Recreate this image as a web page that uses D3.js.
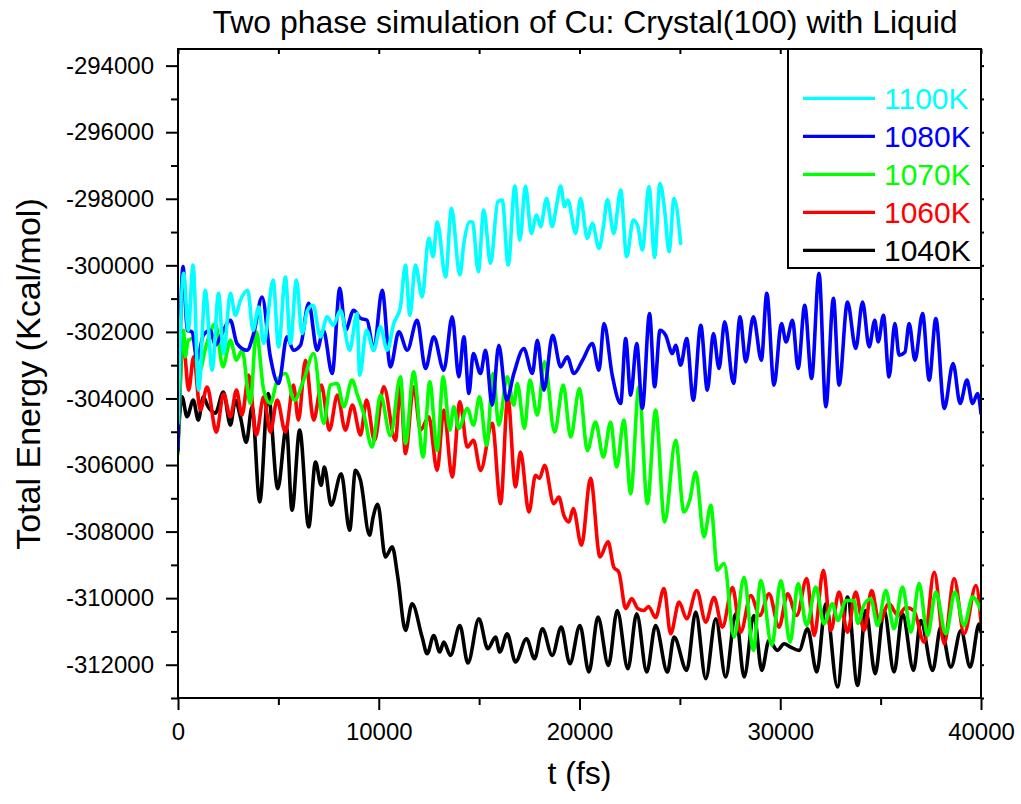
<!DOCTYPE html>
<html>
<head>
<meta charset="utf-8">
<script src="https://cdn.jsdelivr.net/npm/d3@7"></script>
<style>
  body { margin: 0; background: #fff; }
  text { font-family: "Liberation Sans", Arial, sans-serif; }
</style>
</head>
<body>
<div id="chart"></div>
<script>
// data: [time (fs), total energy (kcal/mol)]
var k1100 = [[0,-304750],[280,-300240],[510,-301950],[750,-299990],[1030,-303750],[1360,-300750],[1700,-303150],[2020,-300840],[2270,-302650],[2610,-300840],[2860,-301500],[3110,-301050],[3470,-300750],[3740,-301950],[4020,-301250],[4270,-302350],[4740,-300440],[5010,-302450],[5350,-300350],[5600,-302350],[5900,-300440],[6180,-302050],[6450,-301350],[6730,-301200],[7090,-302150],[7430,-301550],[7740,-301800],[8090,-301350],[8550,-302550],[8920,-301450],[9050,-303300],[9390,-301950],[9750,-302550],[10080,-301850],[10420,-302550],[10750,-301750],[11080,-301250],[11330,-299990],[11550,-301500],[11830,-299990],[12160,-300950],[12490,-299190],[12710,-299740],[12910,-298690],[13330,-300350],[13620,-298290],[14040,-300290],[14240,-299340],[14540,-298690],[14670,-298700],[14960,-300190],[15230,-298340],[15570,-299940],[15930,-298090],[16150,-298040],[16450,-299990],[16780,-297620],[17030,-299240],[17310,-297620],[17600,-299040],[17860,-298490],[18060,-298840],[18360,-297990],[18640,-298840],[18860,-298190],[19060,-297620],[19260,-298240],[19420,-298040],[19810,-299040],[20050,-297990],[20390,-299190],[20640,-298740],[20970,-299490],[21190,-298840],[21390,-298020],[21710,-299040],[22050,-297740],[22350,-299740],[22680,-298640],[22910,-298840],[23130,-299540],[23460,-297640],[23740,-299760],[24010,-297540],[24240,-298340],[24460,-299590],[24710,-297990],[25040,-299340]];

var k1080 = [[0,-305560],[250,-300040],[460,-301950],[700,-302000],[950,-302850],[1260,-302100],[1610,-301950],[1860,-302400],[2110,-302150],[2610,-301650],[2940,-302350],[3440,-302550],[3770,-302050],[4190,-300950],[4600,-302750],[5010,-303550],[5430,-302150],[5750,-302550],[6100,-302400],[6510,-301140],[6930,-302550],[7240,-301950],[7680,-303250],[8060,-300690],[8340,-301950],[8750,-301350],[9090,-301590],[9420,-301650],[9750,-302550],[10170,-300750],[10580,-303050],[11000,-302000],[11420,-302550],[11910,-301650],[12330,-303100],[12740,-302150],[13240,-303150],[13660,-301550],[13990,-303350],[14240,-302150],[14490,-303850],[14710,-302650],[15070,-303250],[15320,-302550],[15650,-304200],[15980,-302400],[16370,-304050],[16730,-303250],[17230,-302500],[17650,-303250],[17900,-302250],[18230,-303750],[18660,-302100],[19060,-303050],[19390,-302750],[19720,-303250],[20150,-302850],[20640,-302350],[20970,-303150],[21220,-301750],[21630,-303300],[22050,-304150],[22300,-302200],[22550,-303900],[22850,-302350],[23130,-304300],[23490,-301450],[23740,-303650],[24010,-301950],[24290,-302100],[24630,-302650],[24790,-302400],[25040,-303000],[25340,-302200],[25670,-304050],[26040,-301800],[26370,-303750],[26670,-302050],[26950,-303100],[27230,-301700],[27670,-303550],[28000,-301550],[28280,-302900],[28660,-301550],[29060,-302850],[29330,-300840],[29690,-303600],[30060,-301750],[30290,-302300],[30610,-301650],[30890,-303100],[31220,-301200],[31560,-303400],[31930,-300240],[32270,-304250],[32650,-300990],[32930,-303600],[33350,-301100],[33760,-302500],[34100,-301100],[34430,-302450],[34710,-301650],[34880,-302300],[35140,-301500],[35420,-303350],[35710,-301750],[35920,-302700],[36210,-302610],[36420,-301750],[36710,-302850],[37090,-301450],[37420,-303450],[37750,-301600],[38170,-304300],[38610,-302950],[38960,-304150],[39300,-303450],[39580,-304150],[39830,-303850],[40000,-304450]];

var k1070 = [[0,-305660],[280,-301950],[360,-302750],[510,-302250],[780,-302200],[1030,-303250],[1410,-302400],[1860,-301750],[2240,-303050],[2610,-302250],[2910,-302850],[3190,-302550],[3600,-304150],[3900,-302000],[4270,-303750],[4600,-304150],[4950,-303450],[5350,-303250],[5800,-304050],[6260,-303450],[6760,-302650],[7260,-304750],[7590,-303600],[7930,-303550],[8260,-304250],[8670,-303450],[8940,-303900],[9250,-304450],[9670,-305460],[10090,-303900],[10580,-305120],[11080,-303350],[11330,-305350],[11740,-303200],[12210,-305760],[12540,-303500],[12910,-305560],[13210,-303350],[13540,-304950],[13740,-304250],[13990,-304900],[14410,-304300],[14720,-304800],[15020,-303950],[15370,-305410],[15700,-303250],[15980,-304800],[16400,-303350],[16730,-304200],[16900,-303550],[17260,-304900],[17530,-303450],[17900,-304500],[18260,-302900],[18760,-305010],[19190,-303600],[19560,-305160],[20000,-303700],[20390,-305560],[20800,-304710],[21190,-305760],[21550,-304710],[21850,-306060],[22210,-304650],[22550,-306860],[22960,-303650],[23380,-307160],[23790,-304350],[24240,-307710],[24790,-305260],[25200,-307410],[25490,-307060],[25790,-306210],[26200,-308160],[26540,-307210],[26870,-309160],[27200,-308960],[27700,-311170],[28200,-309370],[28660,-311570],[29030,-309470],[29580,-311420],[30030,-309470],[30490,-311320],[30890,-309560],[31320,-310820],[31770,-309670],[32180,-310770],[32600,-310170],[32870,-310670],[33270,-310070],[33680,-310070],[33860,-310760],[34160,-310220],[34510,-310020],[34850,-310820],[35260,-309770],[35670,-310920],[36090,-309670],[36510,-311020],[36920,-309560],[37340,-311120],[37750,-309820],[38250,-311070],[38700,-309820],[39160,-310820],[39580,-309970],[40000,-310370]];

var k1060 = [[0,-305410],[280,-302450],[530,-303750],[780,-302750],[1110,-304350],[1450,-303660],[1910,-305010],[2270,-303870],[2610,-304550],[2910,-303750],[3190,-304500],[3520,-303300],[3900,-305100],[4270,-303950],[4600,-305010],[4940,-304050],[5350,-305010],[5750,-303600],[6000,-304650],[6350,-302850],[6760,-304650],[7140,-303600],[7540,-304950],[7940,-303900],[8340,-304950],[8690,-304200],[9090,-305100],[9390,-304050],[9790,-305260],[10250,-303650],[10830,-305260],[11080,-303650],[11330,-305660],[11740,-303650],[12080,-304950],[12490,-304550],[12910,-306160],[13240,-304350],[13660,-306360],[14040,-304100],[14410,-305460],[14720,-305260],[15070,-306160],[15650,-304750],[16070,-307160],[16430,-303950],[16810,-306660],[17060,-305610],[17480,-307410],[17810,-306310],[18010,-306400],[18260,-306010],[18720,-307160],[18970,-306960],[19220,-307510],[19470,-307710],[19690,-307310],[20100,-308410],[20550,-306400],[21020,-308760],[21420,-308310],[21710,-309070],[21960,-309220],[22300,-310310],[22600,-310010],[22900,-310310],[23210,-310370],[23440,-310250],[23790,-310580],[24210,-309710],[24540,-311070],[24960,-310120],[25340,-310620],[25840,-309770],[26290,-310720],[26700,-309980],[27120,-310870],[27620,-309680],[28030,-311020],[28530,-309920],[28980,-310520],[29440,-309870],[29940,-310870],[30360,-309870],[30820,-310520],[31320,-309410],[31690,-311120],[32150,-309160],[32520,-310970],[32930,-309820],[33350,-311020],[33760,-309820],[34180,-310970],[34550,-309770],[34930,-310720],[35410,-310160],[35860,-310520],[36260,-310280],[36650,-310370],[37170,-311320],[37670,-309220],[38170,-311370],[38660,-309410],[39160,-311070],[39750,-309620],[40000,-310720]];

var k1040 = [[0,-305260],[200,-303950],[450,-304550],[760,-304050],[1010,-304650],[1260,-303960],[1510,-304260],[1860,-304440],[2260,-303810],[2610,-304800],[2860,-304050],[3110,-304560],[3400,-305320],[3690,-304250],[4070,-307110],[4490,-303850],[4970,-306710],[5400,-304860],[5680,-307360],[6060,-304950],[6510,-307860],[6850,-305910],[7130,-306610],[7290,-306060],[7630,-307210],[8130,-306260],[8550,-307960],[8840,-306160],[9090,-306460],[9540,-308110],[9720,-307560],[9950,-307180],[10330,-308760],[10670,-308460],[10950,-309370],[11330,-310970],[11660,-310170],[12160,-311170],[12410,-311670],[12740,-311120],[13040,-311620],[13240,-311320],[13570,-311720],[14040,-310820],[14440,-311950],[14990,-310620],[15430,-311520],[15820,-311170],[16030,-311620],[16400,-311070],[16810,-311920],[17360,-311220],[17760,-311820],[18150,-310920],[18640,-311720],[19090,-310870],[19520,-311970],[20020,-310820],[20470,-312220],[20920,-310570],[21440,-312020],[21880,-310370],[22410,-312120],[22850,-310470],[23350,-312220],[23790,-310820],[24380,-312220],[24710,-311170],[25340,-312170],[25790,-310420],[26290,-312420],[26790,-310620],[27280,-312370],[27780,-310470],[28200,-312370],[28690,-310520],[29080,-312170],[29440,-311270],[29860,-311570],[30190,-311370],[30520,-311470],[30940,-311570],[31360,-310920],[31820,-312220],[32270,-310170],[32850,-312670],[33350,-309970],[33850,-312620],[34260,-310370],[34730,-312270],[35170,-310370],[35670,-312220],[36090,-310470],[36640,-312170],[37000,-310670],[37590,-312170],[38000,-310870],[38500,-312070],[39000,-310970],[39460,-312070],[39910,-310770],[40000,-311020]];

var seriesNames = ["1100K", "1080K", "1070K", "1060K", "1040K"];
var seriesData = [k1100, k1080, k1070, k1060, k1040];
var seriesColors = ["#00ffff", "#0000ff", "#00ff00", "#ff0000", "#000000"];

var xMajor = [0, 10000, 20000, 30000, 40000];
var xMinor = [5000, 15000, 25000, 35000];
var yMajor = [-312000, -310000, -308000, -306000, -304000, -302000, -300000, -298000, -296000, -294000];
var yMinor = [-313000, -311000, -309000, -307000, -305000, -303000, -301000, -299000, -297000, -295000];

// set the dimensions and margins of the graph
var margin = {top: 49, right: 40, bottom: 106, left: 178},
    width = 1021 - margin.left - margin.right,
    height = 804 - margin.top - margin.bottom;

var svg = d3.select("#chart")
    .append("svg")
    .attr("width", 1021)
    .attr("height", 804);

var g = svg.append("g")
    .attr("transform", "translate(" + margin.left + "," + margin.top + ")");

var x = d3.scaleLinear().domain([0, 40000]).range([0, width]);
var y = d3.scaleLinear().domain([-313000, -293500]).range([height, 0]);

// Title
svg.append("text")
    .attr("x", 585)
    .attr("y", 33)
    .attr("text-anchor", "middle")
    .style("font-size", "32px")
    .text("Two phase simulation of Cu: Crystal(100) with Liquid");

// X label
svg.append("text")
    .attr("x", margin.left + width / 2)
    .attr("y", 784)
    .attr("text-anchor", "middle")
    .style("font-size", "32px")
    .text("t (fs)");

// Y label
svg.append("text")
    .attr("transform", "translate(40,374) rotate(-90)")
    .attr("text-anchor", "middle")
    .style("font-size", "34px")
    .text("Total Energy (Kcal/mol)");

// axes
function styleAxis(sel) {
    sel.select(".domain").remove();
    sel.selectAll("line").attr("stroke", "#000").attr("stroke-width", 2);
    sel.selectAll("text").style("font-size", "24px").attr("fill", "#000")
        .style("font-family", "'Liberation Sans', Arial, sans-serif");
}

g.append("g")
    .attr("transform", "translate(0," + height + ")")
    .call(d3.axisBottom(x).tickValues(xMajor).tickSize(12).tickPadding(13)
        .tickFormat(function(d) { return String(d); }))
    .call(styleAxis);

g.append("g")
    .attr("transform", "translate(0," + height + ")")
    .call(d3.axisBottom(x).tickValues(xMinor).tickSize(7).tickFormat(""))
    .call(styleAxis);

g.append("g")
    .call(d3.axisLeft(y).tickValues(yMajor).tickSize(12).tickPadding(12)
        .tickFormat(function(d) { return String(d); }))
    .call(styleAxis);

g.append("g")
    .call(d3.axisLeft(y).tickValues(yMinor).tickSize(7).tickFormat(""))
    .call(styleAxis);

// mirror ticks on top and right
g.append("g")
    .call(d3.axisTop(x).tickValues(xMajor.concat(xMinor)).tickSize(-5).tickFormat(""))
    .call(styleAxis);

g.append("g")
    .attr("transform", "translate(" + width + ",0)")
    .call(d3.axisRight(y).tickValues(yMajor.concat(yMinor)).tickSize(3).tickFormat(""))
    .call(styleAxis);

// clip
g.append("clipPath").attr("id", "plotclip")
    .append("rect").attr("width", width).attr("height", height);

var line = d3.line()
    .x(function(d) { return x(d[0]); })
    .y(function(d) { return y(d[1]); })
    .curve(d3.curveMonotoneX);

// draw from bottom layer (1040K) to top (1100K)
var order = [4, 3, 2, 1, 0];
g.append("g").attr("clip-path", "url(#plotclip)")
  .selectAll("path.series")
    .data(order)
    .enter()
    .append("path")
    .attr("class", "series")
    .attr("fill", "none")
    .attr("stroke", function(i) { return seriesColors[i]; })
    .attr("stroke-width", 3.6)
    .attr("stroke-linejoin", "round")
    .attr("stroke-linecap", "round")
    .attr("d", function(i) { return line(seriesData[i]); });

// frame
g.append("rect")
    .attr("width", width)
    .attr("height", height)
    .attr("fill", "none")
    .attr("stroke", "#000")
    .attr("stroke-width", 2);

// Legend
var legend = g.append("g")
    .attr("transform", "translate(" + (width - 193) + ",0)");

legend.append("rect")
    .attr("width", 193)
    .attr("height", 219)
    .attr("fill", "#fff")
    .attr("stroke", "#000")
    .attr("stroke-width", 2);

seriesNames.forEach(function(name, i) {
    var row = legend.append("g")
        .attr("transform", "translate(0," + (49.3 + i * 38) + ")");
    row.append("line")
        .attr("x1", 15).attr("x2", 87)
        .attr("stroke", seriesColors[i])
        .attr("stroke-width", 3.2);
    row.append("text")
        .attr("x", 96)
        .attr("y", 10.5)
        .style("font-size", "30px")
        .attr("fill", seriesColors[i])
        .text(name);
});
</script>
</body>
</html>
